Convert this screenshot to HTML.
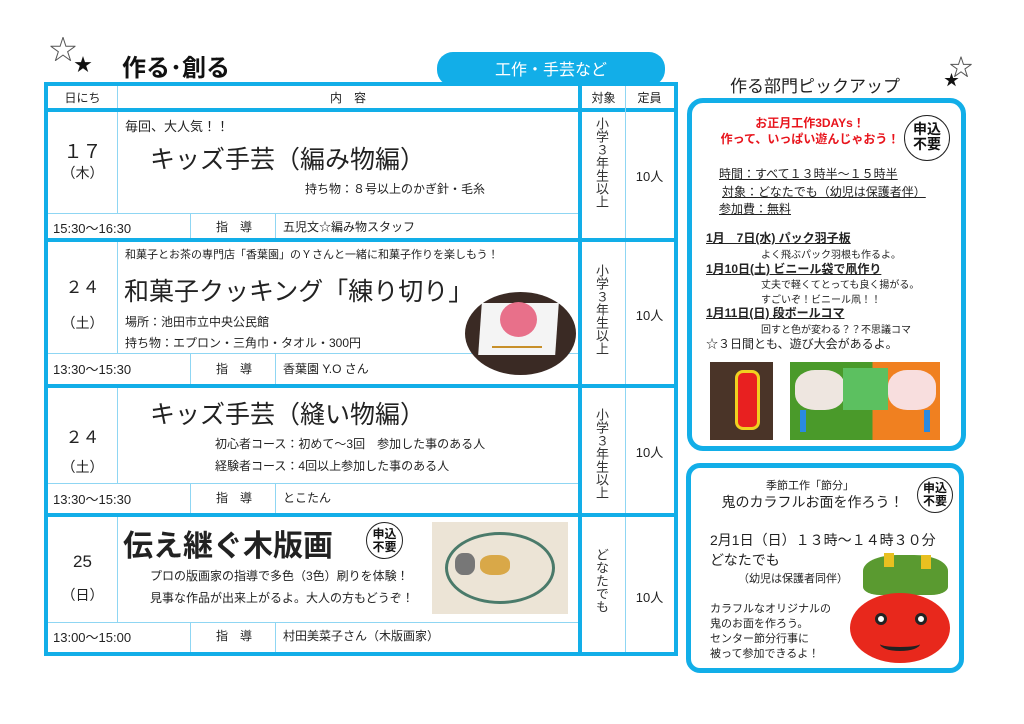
<!DOCTYPE html>
<html><head><meta charset="utf-8"><style>
*{margin:0;padding:0;box-sizing:border-box}
body{width:1024px;height:724px;background:#fff;position:relative;overflow:hidden;font-family:"Liberation Sans","Noto Sans CJK JP",sans-serif;color:#222}
.a{position:absolute;white-space:nowrap}
.b{position:absolute;background:#12aee8}
.t{position:absolute;background:#8fd6f3}
.c{text-align:center}
.stamp{position:absolute;border:1.5px solid #222;border-radius:50%;font-weight:bold;text-align:center;line-height:1.05;color:#111}
.vt{position:absolute;writing-mode:vertical-rl;text-orientation:upright;font-size:13px;line-height:14px;color:#333}
</style></head><body>
<div class="a" style="left:50px;top:30px;font-size:26px;color:#fff;-webkit-text-stroke:1px #555">★</div>
<div class="a" style="left:74px;top:51px;font-size:18px;color:#111">★</div>
<div class="a" style="left:122px;top:48px;font-size:24px;font-weight:bold;color:#111">作る･創る</div>
<div class="a" style="left:950px;top:50px;font-size:22px;color:#fff;-webkit-text-stroke:1px #555">★</div>
<div class="a" style="left:944px;top:69px;font-size:15px;color:#111">★</div>
<div class="a c" style="left:437px;top:52px;width:228px;height:34px;background:#12aee8;border-radius:16px;color:#fff;font-size:16px;line-height:38px">工作・手芸など</div>
<div class="a" style="left:44px;top:82px;width:634px;height:574px;border:4px solid #12aee8;background:#fff"></div>
<div class="b" style="left:44px;top:108px;width:634px;height:4px"></div>
<div class="t" style="left:117px;top:86px;width:1px;height:22px"></div>
<div class="b" style="left:578px;top:86px;width:4px;height:566px"></div>
<div class="t" style="left:625px;top:86px;width:1px;height:566px"></div>
<div class="a c" style="left:48px;top:89px;width:69px;font-size:12px">日にち</div>
<div class="a c" style="left:118px;top:89px;width:460px;font-size:12px">内　容</div>
<div class="a c" style="left:582px;top:89px;width:43px;font-size:12px">対象</div>
<div class="a c" style="left:626px;top:89px;width:47px;font-size:12px">定員</div>
<div class="b" style="left:44px;top:238px;width:634px;height:4px"></div>
<div class="b" style="left:44px;top:384px;width:634px;height:4px"></div>
<div class="b" style="left:44px;top:513px;width:634px;height:4px"></div>
<div class="t" style="left:117px;top:112px;width:1px;height:101px"></div>
<div class="t" style="left:117px;top:242px;width:1px;height:111px"></div>
<div class="t" style="left:117px;top:388px;width:1px;height:95px"></div>
<div class="t" style="left:117px;top:517px;width:1px;height:105px"></div>
<div class="t" style="left:48px;top:213px;width:530px;height:1px"></div>
<div class="t" style="left:190px;top:213px;width:1px;height:25px"></div>
<div class="t" style="left:275px;top:213px;width:1px;height:25px"></div>
<div class="t" style="left:48px;top:353px;width:530px;height:1px"></div>
<div class="t" style="left:190px;top:353px;width:1px;height:31px"></div>
<div class="t" style="left:275px;top:353px;width:1px;height:31px"></div>
<div class="t" style="left:48px;top:483px;width:530px;height:1px"></div>
<div class="t" style="left:190px;top:483px;width:1px;height:30px"></div>
<div class="t" style="left:275px;top:483px;width:1px;height:30px"></div>
<div class="t" style="left:48px;top:622px;width:530px;height:1px"></div>
<div class="t" style="left:190px;top:622px;width:1px;height:30px"></div>
<div class="t" style="left:275px;top:622px;width:1px;height:30px"></div>

<div class="a c" style="left:48px;top:143px;width:69px;font-size:19px;line-height:20px">１７<br><span style="font-size:14px">（木）</span></div>
<div class="a" style="left:125px;top:116px;font-size:13px">毎回、大人気！！</div>
<div class="a" style="left:150px;top:140px;font-size:25px">キッズ手芸（編み物編）</div>
<div class="a" style="left:305px;top:180px;font-size:12px">持ち物：８号以上のかぎ針・毛糸</div>
<div class="a" style="left:53px;top:218px;font-size:13px">15:30～16:30</div>
<div class="a" style="left:216px;top:218px;font-size:12px">指　導</div>
<div class="a" style="left:283px;top:218px;font-size:12px">五児文☆編み物スタッフ</div>
<div class="vt" style="left:594px;top:117px">小学３年生以上</div>
<div class="a c" style="left:626px;top:166px;width:47px;font-size:13px">10人</div>

<div class="a c" style="left:48px;top:278px;width:69px;font-size:17px;line-height:20px">２４</div>
<div class="a c" style="left:48px;top:313px;width:69px;font-size:14px">（土）</div>
<div class="a" style="left:125px;top:246px;font-size:11px">和菓子とお茶の専門店「香葉園」のＹさんと一緒に和菓子作りを楽しもう！</div>
<div class="a" style="left:124px;top:272px;font-size:25px">和菓子クッキング「練り切り」</div>
<div class="a" style="left:125px;top:313px;font-size:12px">場所：池田市立中央公民館</div>
<div class="a" style="left:125px;top:334px;font-size:12px">持ち物：エプロン・三角巾・タオル・300円</div>
<div class="a" style="left:53px;top:359px;font-size:13px">13:30～15:30</div>
<div class="a" style="left:216px;top:360px;font-size:12px">指　導</div>
<div class="a" style="left:283px;top:360px;font-size:12px">香葉園 Y.O さん</div>
<div class="a" style="left:465px;top:292px;width:111px;height:83px;border-radius:50%;background:#3a2a24"></div>
<div class="a" style="left:480px;top:303px;width:77px;height:52px;background:#f4f4f4;transform:skewX(-4deg)"></div>
<div class="a" style="left:500px;top:302px;width:37px;height:35px;border-radius:50%;background:#e8708a"></div>
<div class="a" style="left:492px;top:346px;width:50px;height:2px;background:#c8902a"></div>
<div class="vt" style="left:594px;top:264px">小学３年生以上</div>
<div class="a c" style="left:626px;top:305px;width:47px;font-size:13px">10人</div>

<div class="a" style="left:150px;top:395px;font-size:25px">キッズ手芸（縫い物編）</div>
<div class="a c" style="left:48px;top:423px;width:69px;font-size:17px">２４</div>
<div class="a c" style="left:48px;top:457px;width:69px;font-size:14px">（土）</div>
<div class="a" style="left:215px;top:435px;font-size:12px">初心者コース：初めて～3回　参加した事のある人</div>
<div class="a" style="left:215px;top:457px;font-size:12px">経験者コース：4回以上参加した事のある人</div>
<div class="a" style="left:53px;top:489px;font-size:13px">13:30～15:30</div>
<div class="a" style="left:216px;top:489px;font-size:12px">指　導</div>
<div class="a" style="left:283px;top:489px;font-size:12px">とこたん</div>
<div class="vt" style="left:594px;top:408px">小学３年生以上</div>
<div class="a c" style="left:626px;top:442px;width:47px;font-size:13px">10人</div>

<div class="a" style="left:123px;top:521px;font-size:30px;font-weight:bold">伝え継ぐ木版画</div>
<div class="stamp" style="left:366px;top:522px;width:37px;height:37px;font-size:12px;padding-top:5px">申込<br>不要</div>
<div class="a c" style="left:48px;top:552px;width:69px;font-size:17px">25</div>
<div class="a c" style="left:48px;top:585px;width:69px;font-size:14px">（日）</div>
<div class="a" style="left:150px;top:567px;font-size:12px">プロの版画家の指導で多色（3色）刷りを体験！</div>
<div class="a" style="left:150px;top:589px;font-size:12px">見事な作品が出来上がるよ。大人の方もどうぞ！</div>
<div class="a" style="left:432px;top:522px;width:136px;height:92px;background:#ece4d6"></div>
<div class="a" style="left:445px;top:532px;width:110px;height:72px;border:3px solid #4a7a6a;border-radius:50%"></div>
<div class="a" style="left:480px;top:555px;width:30px;height:20px;background:#d9a848;border-radius:40%"></div>
<div class="a" style="left:455px;top:553px;width:20px;height:22px;background:#777;border-radius:40%"></div>
<div class="a" style="left:53px;top:627px;font-size:13px">13:00～15:00</div>
<div class="a" style="left:216px;top:627px;font-size:12px">指　導</div>
<div class="a" style="left:283px;top:627px;font-size:12px">村田美菜子さん（木版画家）</div>
<div class="vt" style="left:594px;top:548px;font-size:13px">どなたでも</div>
<div class="a c" style="left:626px;top:587px;width:47px;font-size:13px">10人</div>

<div class="a" style="left:730px;top:72px;font-size:17px">作る部門ピックアップ</div>
<div class="a" style="left:687px;top:98px;width:279px;height:353px;border:5px solid #12aee8;border-radius:16px"></div>
<div class="a c" style="left:720px;top:115px;width:180px;font-size:12px;font-weight:bold;color:#e8141c;line-height:16px">お正月工作3DAYs！<br>作って、いっぱい遊んじゃおう！</div>
<div class="stamp" style="left:904px;top:115px;width:46px;height:46px;font-size:14px;padding-top:6px">申込<br>不要</div>
<div class="a" style="left:719px;top:165px;font-size:12px;text-decoration:underline">時間：すべて１３時半～１５時半</div>
<div class="a" style="left:722px;top:183px;font-size:12px;text-decoration:underline">対象：どなたでも（幼児は保護者伴）</div>
<div class="a" style="left:719px;top:200px;font-size:12px;text-decoration:underline">参加費：無料</div>
<div class="a" style="left:706px;top:229px;font-size:12px;font-weight:bold;text-decoration:underline">1月　7日(水) パック羽子板</div>
<div class="a" style="left:761px;top:246px;font-size:10px">よく飛ぶパック羽根も作るよ。</div>
<div class="a" style="left:706px;top:260px;font-size:12px;font-weight:bold;text-decoration:underline">1月10日(土) ビニール袋で凧作り</div>
<div class="a" style="left:761px;top:276px;font-size:10px">丈夫で軽くてとっても良く揚がる。</div>
<div class="a" style="left:761px;top:291px;font-size:10px">すごいぞ！ビニール凧！！</div>
<div class="a" style="left:706px;top:304px;font-size:12px;font-weight:bold;text-decoration:underline">1月11日(日) 段ボールコマ</div>
<div class="a" style="left:761px;top:321px;font-size:10px">回すと色が変わる？？不思議コマ</div>
<div class="a" style="left:706px;top:335px;font-size:12px">☆３日間とも、遊び大会があるよ。</div>
<div class="a" style="left:710px;top:362px;width:63px;height:78px;background:#4a3428"></div>
<div class="a" style="left:735px;top:370px;width:25px;height:60px;background:#e82020;border:3px solid #f0d020;border-radius:8px"></div>
<div class="a" style="left:790px;top:362px;width:150px;height:78px;background:linear-gradient(90deg,#4a9a2a 0 55%,#f08020 55%)"></div>
<div class="a" style="left:795px;top:370px;width:50px;height:40px;background:#eee6e0;border-radius:40%"></div>
<div class="a" style="left:843px;top:368px;width:45px;height:42px;background:#5cc060"></div>
<div class="a" style="left:888px;top:370px;width:48px;height:40px;background:#f8dede;border-radius:40%"></div>
<div class="a" style="left:800px;top:410px;width:130px;height:22px;border-left:6px solid #2a8ae0;border-right:6px solid #2a8ae0"></div>

<div class="a" style="left:686px;top:463px;width:278px;height:210px;border:5px solid #12aee8;border-radius:14px"></div>
<div class="a c" style="left:700px;top:477px;width:220px;font-size:11px">季節工作「節分」</div>
<div class="a c" style="left:700px;top:492px;width:225px;font-size:14px">鬼のカラフルお面を作ろう！</div>
<div class="stamp" style="left:917px;top:477px;width:36px;height:36px;font-size:12px;padding-top:4px">申込<br>不要</div>
<div class="a" style="left:710px;top:530px;font-size:14px">2月1日（日）１３時～１４時３０分</div>
<div class="a" style="left:710px;top:550px;font-size:14px">どなたでも</div>
<div class="a" style="left:738px;top:570px;font-size:11px">（幼児は保護者同伴）</div>
<div class="a" style="left:710px;top:602px;font-size:11px;line-height:15px">カラフルなオリジナルの<br>鬼のお面を作ろう。<br>センター節分行事に<br>被って参加できるよ！</div>
<div class="a" style="left:863px;top:555px;width:85px;height:40px;background:#5a9a30;border-radius:40% 40% 20% 20%"></div>
<div class="a" style="left:884px;top:553px;width:10px;height:14px;background:#e8c020"></div>
<div class="a" style="left:921px;top:555px;width:10px;height:14px;background:#e8c020"></div>
<div class="a" style="left:850px;top:593px;width:100px;height:70px;background:#e8281c;border-radius:50%"></div>
<div class="a" style="left:875px;top:613px;width:12px;height:12px;background:#fff;border-radius:50%;border:3px solid #222"></div>
<div class="a" style="left:915px;top:613px;width:12px;height:12px;background:#fff;border-radius:50%;border:3px solid #222"></div>
<div class="a" style="left:880px;top:637px;width:40px;height:14px;border-bottom:4px solid #222;border-radius:0 0 50% 50%"></div>
</body></html>
